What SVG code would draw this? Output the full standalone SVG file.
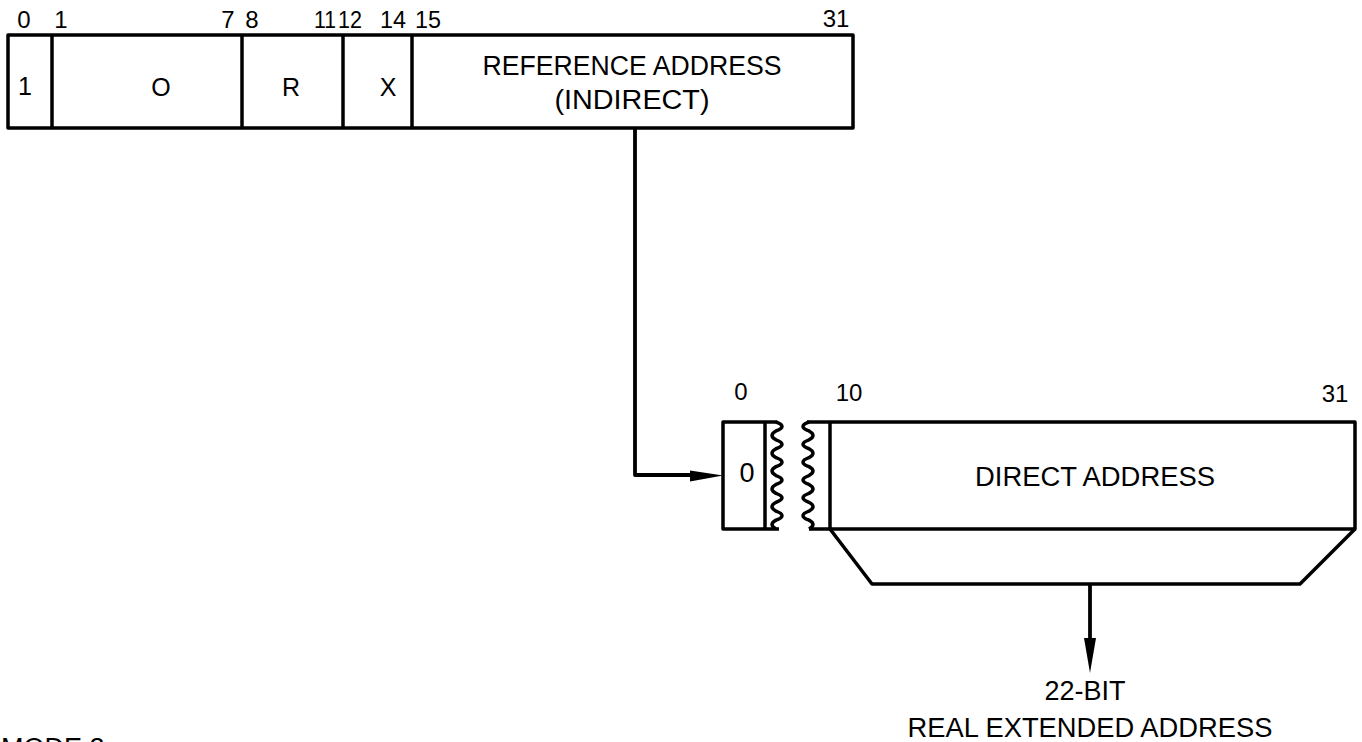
<svg xmlns="http://www.w3.org/2000/svg" width="1362" height="742" viewBox="0 0 1362 742">
<style>
.box{fill:none;stroke:#000;stroke-width:3.5;stroke-linejoin:round}
.ln{fill:none;stroke:#000;stroke-width:3.8;stroke-linejoin:round}
.t{font-family:"Liberation Sans",Arial,sans-serif;fill:#000;text-anchor:middle}
.num{font-size:24px}
.lab{font-size:27px}
.cell{font-size:25px}
</style>
<rect width="1362" height="742" fill="#fff"/>

<g id="instruction-word">
  <rect class="box" x="8" y="35" width="845" height="93"/>
  <line class="box" x1="52" y1="35" x2="52" y2="128"/>
  <line class="box" x1="242" y1="35" x2="242" y2="128"/>
  <line class="box" x1="343" y1="35" x2="343" y2="128"/>
  <line class="box" x1="412" y1="35" x2="412" y2="128"/>
  <text class="t num" x="24" y="28">0</text>
  <text class="t num" x="61" y="28">1</text>
  <text class="t num" x="228" y="28">7</text>
  <text class="t num" x="252" y="28">8</text>
  <text class="t num" x="325" y="28" textLength="22" lengthAdjust="spacingAndGlyphs">11</text>
  <text class="t num" x="350" y="28" textLength="24" lengthAdjust="spacingAndGlyphs">12</text>
  <text class="t num" x="393" y="28" textLength="26" lengthAdjust="spacingAndGlyphs">14</text>
  <text class="t num" x="428" y="28" textLength="26" lengthAdjust="spacingAndGlyphs">15</text>
  <text class="t num" x="836" y="27">31</text>
  <text class="t cell" x="25" y="95">1</text>
  <text class="t cell" x="161" y="96">O</text>
  <text class="t cell" x="291" y="96">R</text>
  <text class="t cell" x="388" y="96">X</text>
  <text class="t lab" x="632" y="75" textLength="299" lengthAdjust="spacingAndGlyphs">REFERENCE ADDRESS</text>
  <text class="t lab" x="632" y="109" textLength="155" lengthAdjust="spacingAndGlyphs">(INDIRECT)</text>
</g>

<g id="indirect-word">
  <path class="box" d="M777,422 H723 V529 H779"/>
  <line class="box" x1="765" y1="422" x2="765" y2="529"/>
  <path class="box" d="M776,422 q12,4.46 0,8.92 q-8,4.46 0,8.92 q12,4.46 0,8.92 q-8,4.46 0,8.92 q12,4.46 0,8.92 q-8,4.46 0,8.92 q12,4.46 0,8.92 q-8,4.46 0,8.92 q12,4.46 0,8.92 q-8,4.46 0,8.92 q12,4.46 0,8.92 q-8,4.46 0,8.92"/>
  <path class="box" d="M809,422 q-12,4.46 0,8.92 q8,4.46 0,8.92 q-12,4.46 0,8.92 q8,4.46 0,8.92 q-12,4.46 0,8.92 q8,4.46 0,8.92 q-12,4.46 0,8.92 q8,4.46 0,8.92 q-12,4.46 0,8.92 q8,4.46 0,8.92 q-12,4.46 0,8.92 q8,4.46 0,8.92"/>
  <path class="box" d="M807,422 H1355 V529 H809"/>
  <line class="box" x1="830" y1="422" x2="830" y2="529"/>
  <text class="t num" x="741" y="400">0</text>
  <text class="t num" x="849" y="401">10</text>
  <text class="t num" x="1335" y="402">31</text>
  <text class="t lab" x="747" y="482">0</text>
  <text class="t lab" x="1095" y="486" textLength="240" lengthAdjust="spacingAndGlyphs">DIRECT ADDRESS</text>
</g>

<g id="address-merge">
  <path class="box" d="M830,529 L872,584 H1300 L1355,529"/>
</g>

<g id="result">
  <text class="t lab" x="1085" y="700">22-BIT</text>
  <text class="t lab" x="1090" y="737" textLength="365" lengthAdjust="spacingAndGlyphs">REAL EXTENDED ADDRESS</text>
</g>

<g id="caption">
  <text class="t lab" x="1" y="757" style="text-anchor:start">MODE 2</text>
</g>

<g id="connectors">
  <path class="ln" d="M635,128 V475 H694"/>
  <polygon points="690,470.5 723,475.5 690,481.5" fill="#000"/>
  <line class="ln" x1="1090" y1="584" x2="1090" y2="642"/>
  <polygon points="1084,638 1096,638 1090,673" fill="#000"/>
</g>
</svg>
